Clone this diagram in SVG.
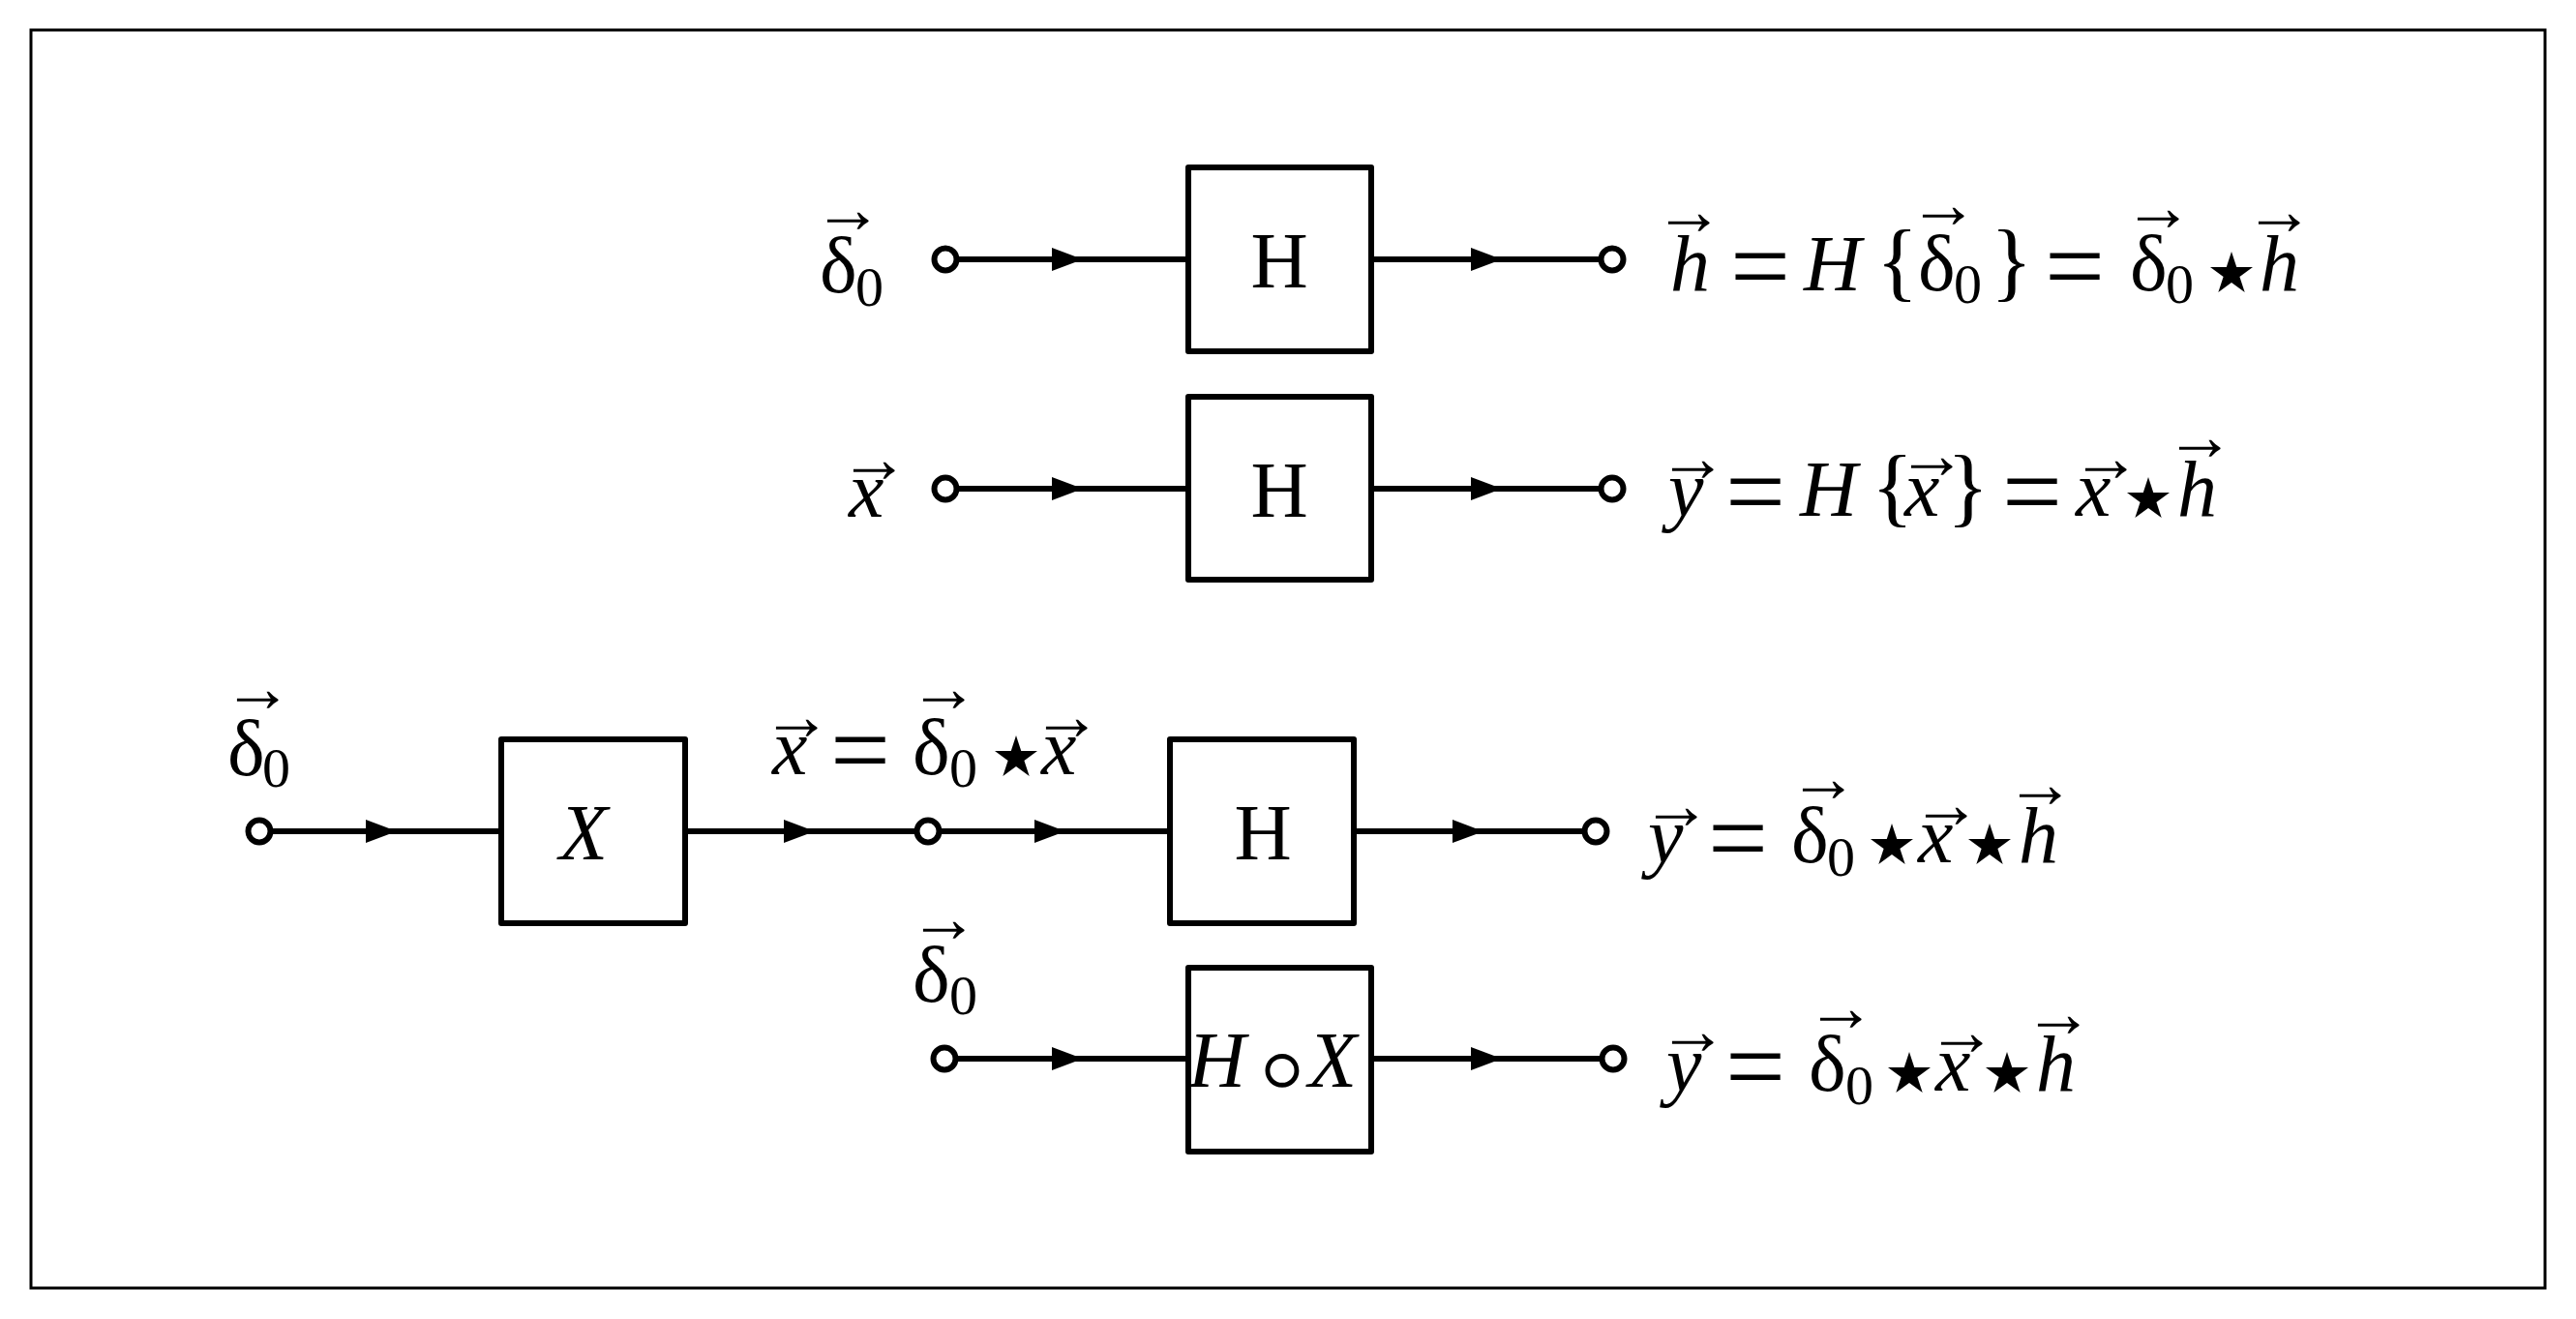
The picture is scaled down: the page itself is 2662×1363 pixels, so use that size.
<svg xmlns="http://www.w3.org/2000/svg" xmlns:xlink="http://www.w3.org/1999/xlink" width="2662" height="1363" viewBox="0 0 2662 1363">
<style>
.ln{stroke:#000;stroke-width:6;fill:none}
.bx{fill:#fff;stroke:#000;stroke-width:6;stroke-linejoin:round}
.pt{fill:#fff;stroke:#000;stroke-width:6}
.m{font-family:"Liberation Serif","Times New Roman",serif;font-size:82px;fill:#000}
.i{font-style:italic}
.s{font-size:58px}
.br{font-size:90px}
.eq{font-size:110px}
.ar{font-size:72px;text-anchor:middle}
.st{font-family:"DejaVu Sans","DejaVu Serif",sans-serif;font-size:115px;text-anchor:middle}
.rg{font-family:"DejaVu Sans","DejaVu Serif",sans-serif;font-size:130px;font-weight:200;text-anchor:middle}
.c{text-anchor:middle}
</style>
<defs>
<path id="ah" d="M-32,-12 L0,0 L-32,12 Z" fill="#000"/>
</defs>
<rect x="32" y="31" width="2598" height="1300" fill="#fff" stroke="#000" stroke-width="3"/>

<g id="connectors">
<path class="ln" d="M977,268 H1228 M1417,268 H1666"/>
<use xlink:href="#ah" x="1119" y="268"/><use xlink:href="#ah" x="1552" y="268"/>
<path class="ln" d="M977,505 H1228 M1417,505 H1666"/>
<use xlink:href="#ah" x="1119" y="505"/><use xlink:href="#ah" x="1552" y="505"/>
<path class="ln" d="M268,859 H518 M708,859 H1209 M1399,859 H1649"/>
<use xlink:href="#ah" x="410" y="859"/><use xlink:href="#ah" x="842" y="859"/><use xlink:href="#ah" x="1101" y="859"/><use xlink:href="#ah" x="1533" y="859"/>
<path class="ln" d="M976,1094 H1228 M1417,1094 H1667"/>
<use xlink:href="#ah" x="1119" y="1094"/><use xlink:href="#ah" x="1552" y="1094"/>
</g>

<g id="ports">
<circle class="pt" cx="977" cy="268" r="11.5"/><circle class="pt" cx="1666" cy="268" r="11.5"/>
<circle class="pt" cx="977" cy="505" r="11.5"/><circle class="pt" cx="1666" cy="505" r="11.5"/>
<circle class="pt" cx="268" cy="859" r="11.5"/><circle class="pt" cx="959" cy="859" r="11.5"/><circle class="pt" cx="1649" cy="859" r="11.5"/>
<circle class="pt" cx="976" cy="1094" r="11.5"/><circle class="pt" cx="1667" cy="1094" r="11.5"/>
</g>

<g id="box-H1"><rect class="bx" x="1228" y="173" width="189" height="190"/><text class="m c" x="1322" y="297">H</text></g>
<g id="box-H2"><rect class="bx" x="1228" y="410" width="189" height="189"/><text class="m c" x="1322" y="534">H</text></g>
<g id="box-X"><rect class="bx" x="518" y="764" width="190" height="190"/><text class="m i" x="578" y="888">X</text></g>
<g id="box-H3"><rect class="bx" x="1209" y="764" width="190" height="190"/><text class="m c" x="1305" y="888">H</text></g>
<g id="box-HX"><rect class="bx" x="1228" y="1000" width="189" height="190"/>
<text class="m"><tspan class="i" x="1228" y="1123">H</tspan><tspan class="rg" x="1325" y="1147">∘</tspan><tspan class="i" x="1352" y="1123">X</tspan></text></g>

<g id="label-in1"><text class="m"><tspan x="847" y="302">δ</tspan><tspan class="s" x="884" y="316">0</tspan><tspan class="ar" x="876" y="240">→</tspan></text></g>
<g id="label-in2"><text class="m"><tspan class="i" x="877" y="534">x</tspan><tspan class="ar" x="903" y="498">→</tspan></text></g>
<g id="label-in3"><text class="m"><tspan x="235" y="801">δ</tspan><tspan class="s" x="271" y="813">0</tspan><tspan class="ar" x="266" y="735">→</tspan></text></g>
<g id="label-mid3"><text class="m"><tspan class="i" x="798" y="800">x</tspan><tspan class="eq" x="858" y="812">=</tspan><tspan x="943" y="800">δ</tspan><tspan class="s" x="981" y="813">0</tspan><tspan class="st" x="1050" y="819">⋆</tspan><tspan class="i" x="1076" y="800">x</tspan><tspan class="ar" x="823" y="764">→</tspan><tspan class="ar" x="975" y="735">→</tspan><tspan class="ar" x="1102" y="764">→</tspan></text></g>
<g id="label-in4"><text class="m"><tspan x="943" y="1035">δ</tspan><tspan class="s" x="981" y="1048">0</tspan><tspan class="ar" x="975" y="973">→</tspan></text></g>

<g id="label-out1"><text class="m"><tspan class="i" x="1726" y="300">h</tspan><tspan class="eq" x="1788" y="312">=</tspan><tspan class="i" x="1864" y="300">H</tspan><tspan class="br" x="1939" y="300">{</tspan><tspan x="1982" y="300">δ</tspan><tspan class="s" x="2019" y="313">0</tspan><tspan class="br" x="2057" y="300">}</tspan><tspan class="eq" x="2113" y="312">=</tspan><tspan x="2201" y="300">δ</tspan><tspan class="s" x="2238" y="313">0</tspan><tspan class="st" x="2306" y="319">⋆</tspan><tspan class="i" x="2335" y="300">h</tspan><tspan class="ar" x="1745" y="242">→</tspan><tspan class="ar" x="2008" y="235">→</tspan><tspan class="ar" x="2230" y="238">→</tspan><tspan class="ar" x="2355" y="242">→</tspan></text></g>
<g id="label-out2"><text class="m"><tspan class="i" x="1724" y="533">y</tspan><tspan class="eq" x="1783" y="545">=</tspan><tspan class="i" x="1860" y="533">H</tspan><tspan class="br" x="1934" y="533">{</tspan><tspan class="i" x="1968" y="533">x</tspan><tspan class="br" x="2012" y="533">}</tspan><tspan class="eq" x="2069" y="545">=</tspan><tspan class="i" x="2145" y="533">x</tspan><tspan class="st" x="2220" y="552">⋆</tspan><tspan class="i" x="2250" y="533">h</tspan><tspan class="ar" x="1749" y="497">→</tspan><tspan class="ar" x="1996" y="494">→</tspan><tspan class="ar" x="2176" y="497">→</tspan><tspan class="ar" x="2273" y="475">→</tspan></text></g>
<g id="label-out3"><text class="m"><tspan class="i" x="1703" y="891">y</tspan><tspan class="eq" x="1765" y="903">=</tspan><tspan x="1851" y="891">δ</tspan><tspan class="s" x="1888" y="905">0</tspan><tspan class="st" x="1955" y="910">⋆</tspan><tspan class="i" x="1982" y="891">x</tspan><tspan class="st" x="2056" y="910">⋆</tspan><tspan class="i" x="2086" y="891">h</tspan><tspan class="ar" x="1732" y="856">→</tspan><tspan class="ar" x="1884" y="828">→</tspan><tspan class="ar" x="2011" y="855">→</tspan><tspan class="ar" x="2108" y="834">→</tspan></text></g>
<g id="label-out4"><text class="m"><tspan class="i" x="1722" y="1127">y</tspan><tspan class="eq" x="1783" y="1139">=</tspan><tspan x="1869" y="1127">δ</tspan><tspan class="s" x="1907" y="1141">0</tspan><tspan class="st" x="1973" y="1146">⋆</tspan><tspan class="i" x="2000" y="1127">x</tspan><tspan class="st" x="2074" y="1146">⋆</tspan><tspan class="i" x="2104" y="1127">h</tspan><tspan class="ar" x="1749" y="1089">→</tspan><tspan class="ar" x="1902" y="1065">→</tspan><tspan class="ar" x="2027" y="1090">→</tspan><tspan class="ar" x="2127" y="1071">→</tspan></text></g>
</svg>
